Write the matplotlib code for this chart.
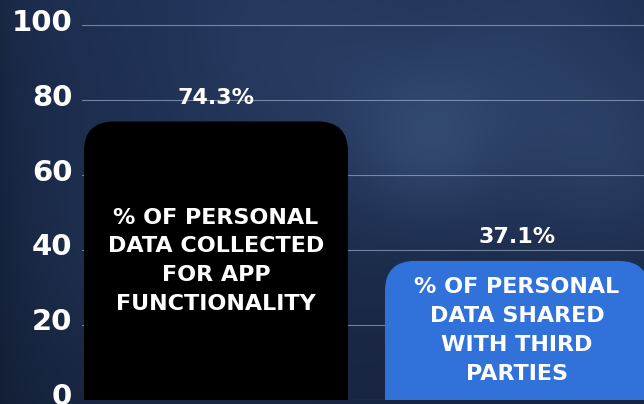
import numpy as np
import matplotlib
matplotlib.use("Agg")
import matplotlib.pyplot as plt
from matplotlib.patches import FancyBboxPatch
from matplotlib.transforms import ScaledTranslation

# valeurs du graphique
categories = ["% OF PERSONAL\nDATA COLLECTED\nFOR APP\nFUNCTIONALITY",
              "% OF PERSONAL\nDATA SHARED\nWITH THIRD\nPARTIES"]
values = [74.3, 37.1]
value_labels = ["74.3%", "37.1%"]
bar_colors = ["#000000", "#3171da"]
yticks = [0, 20, 40, 60, 80, 100]

plt.rcParams["font.family"] = ["DejaVu Sans"]

fig = plt.figure(figsize=(6.44, 4.04), dpi=100)

# fond bleu nuit flou
bg = fig.add_axes([0, 0, 1, 1], zorder=0)
h, w = 404, 644
yy, xx = np.mgrid[0:h, 0:w]
base = np.array([0.12, 0.19, 0.33])
img = np.ones((h, w, 3)) * base
img *= (1.0 - 0.22 * (yy / h))[..., None]
blobs = [(430, 140, 60, 0.40), (600, 150, 70, 0.30), (300, 60, 90, 0.20),
         (520, 40, 60, 0.15), (150, 250, 80, 0.12)]
light = np.array([0.30, 0.42, 0.62]) - base
for cx, cy, s, a in blobs:
    g = a * np.exp(-((xx - cx) ** 2 + (yy - cy) ** 2) / (2 * s ** 2))
    img += g[..., None] * light
img *= (1.0 - 0.2 * np.exp(-(xx / 40.0)))[..., None]
bg.imshow(np.clip(img, 0, 1), aspect="auto", extent=[0, 1, 0, 1])
bg.axis("off")

ax = fig.add_axes([82 / 644, 4 / 404, 562 / 644, 400 / 404], zorder=1)
ax.patch.set_alpha(0)
ax.set_xlim(-0.445, 1.422)
ax.set_ylim(0, 106.7)

ax.set_yticks(yticks)
ax.set_yticklabels([str(t) for t in yticks], color="white",
                   fontsize=21, fontweight="bold")
ax.tick_params(axis="y", length=0, pad=7)
ax.tick_params(axis="x", bottom=False, labelbottom=False)
for lab in ax.get_yticklabels():
    lab.set_transform(lab.get_transform() + ScaledTranslation(0, 4 / 72, fig.dpi_scale_trans))
ax.grid(axis="y", color="#9fb2cf", linewidth=0.8, alpha=0.65)
ax.set_axisbelow(True)
for s in ax.spines.values():
    s.set_visible(False)

bar_w = 0.877
rx = 0.1
ry = 8.0
for i, (v, c) in enumerate(zip(values, bar_colors)):
    patch = FancyBboxPatch((i - bar_w / 2, -ry), bar_w, v + ry,
                           boxstyle=f"round,pad=0,rounding_size={rx}",
                           mutation_aspect=ry / rx, facecolor=c,
                           edgecolor="none", zorder=3)
    ax.add_patch(patch)
    ax.annotate(value_labels[i], (i, v), xytext=(0, 10), textcoords="offset points",
                ha="center", va="bottom", color="white", fontsize=16,
                fontweight="bold", zorder=4)
    ax.text(i, v / 2, categories[i], ha="center", va="center", color="white",
            fontsize=16, fontweight="bold", linespacing=1.55, zorder=4)

fig.savefig("out.png", dpi=100)
